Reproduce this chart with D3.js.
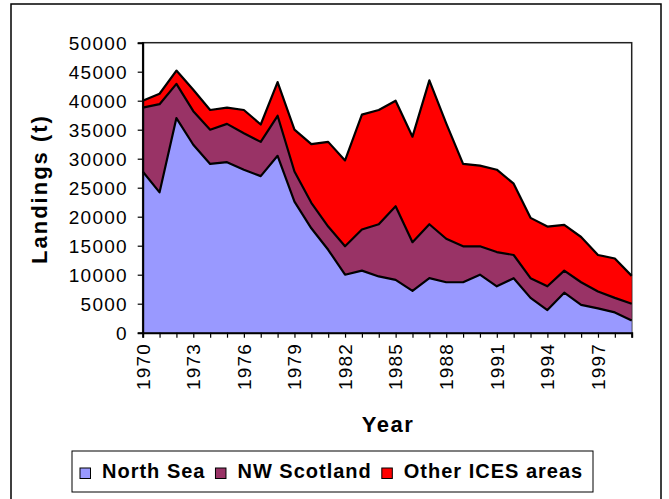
<!DOCTYPE html>
<html>
<head>
<meta charset="utf-8">
<script src="https://cdn.jsdelivr.net/npm/d3@7"></script>
<style>
  body { margin: 0; background: #fff; }
  text { font-family: "Liberation Sans", Arial, sans-serif; fill: #000; }
</style>
</head>
<body>
<div id="chart"></div>
<script>
// DATA (landings in tonnes)
const years = d3.range(1970, 2000);
const northSea = [27800, 24200, 37000, 32400, 29100, 29400, 28100, 27000, 30500, 22600,
  18000, 14300, 10000, 10700, 9700, 9100, 7200, 9400, 8700, 8700,
  10000, 8000, 9400, 6000, 3900, 6900, 4800, 4200, 3500, 2100];
const nwScotland = [11000, 15200, 5900, 5800, 5900, 6600, 6300, 5900, 6900, 5200,
  4400, 4000, 4900, 7100, 9000, 12700, 8400, 9300, 7500, 6200,
  4900, 5900, 4000, 3400, 4100, 3800, 3900, 2900, 2500, 2900];
const otherIces = [1200, 1800, 2300, 3700, 3400, 2800, 4000, 3000, 5800, 7200,
  10100, 14600, 14800, 19800, 19700, 18200, 18200, 24800, 19900, 14200,
  13900, 14200, 12300, 10400, 10300, 7900, 7800, 6300, 6800, 4800];
const seriesNames = ["North Sea", "NW Scotland", "Other ICES areas"];
const seriesColors = ["#9999ff", "#993366", "#ff0000"];
const yTicks = d3.range(0, 50001, 5000);
const yearLabels = d3.range(1970, 2000, 3);

const W = 669, H = 499;
const PLOT = { left: 142.7, right: 631.7, top: 42.7, bottom: 332.7 };

let svg = d3.select("#chart").append("svg")
  .attr("width", W).attr("height", H);

// outer frame
svg.append("rect")
  .attr("x", 11).attr("y", 4).attr("width", 650).attr("height", 510)
  .attr("fill", "none").attr("stroke", "#000").attr("stroke-width", 1.5);

let xScale = d3.scaleLinear().domain([1970, 1999]).range([PLOT.left, PLOT.right]);
let yScale = d3.scaleLinear().domain([0, 50000]).range([PLOT.bottom, PLOT.top]);

// plot frame
svg.append("rect")
  .attr("x", PLOT.left).attr("y", PLOT.top)
  .attr("width", PLOT.right - PLOT.left).attr("height", PLOT.bottom - PLOT.top)
  .attr("fill", "#fff").attr("stroke", "#222").attr("stroke-width", 1.5);

// STACK
const table = years.map((y, i) => ({
  year: y,
  "North Sea": northSea[i],
  "NW Scotland": nwScotland[i],
  "Other ICES areas": otherIces[i]
}));
const stacked = d3.stack().keys(seriesNames)(table);

const area = d3.area()
  .x(d => xScale(d.data.year))
  .y0(d => yScale(d[0]))
  .y1(d => yScale(d[1]));
const topLine = d3.line()
  .x(d => xScale(d.data.year))
  .y(d => yScale(d[1]));

svg.append("g").selectAll("path")
  .data(stacked)
  .join("path")
  .attr("d", area)
  .attr("fill", (d, i) => seriesColors[i]);

svg.append("g").selectAll("path")
  .data(stacked)
  .join("path")
  .attr("d", topLine)
  .attr("fill", "none")
  .attr("stroke", "#000")
  .attr("stroke-width", 2.2)
  .attr("stroke-linejoin", "round");

// AXES
let yAxis = svg.append("g")
  .attr("transform", `translate(${PLOT.left},0)`)
  .call(d3.axisLeft(yScale).tickValues(yTicks).tickSize(5).tickPadding(10).tickFormat(d3.format("d")));
yAxis.select(".domain").attr("stroke", "#000").attr("stroke-width", 2);
yAxis.selectAll(".tick line").attr("stroke", "#000").attr("stroke-width", 1.2);
yAxis.selectAll("text")
  .style("font-size", "19px").style("letter-spacing", "1.2px")
  .attr("dy", "0.36em");

let xAxis = svg.append("g")
  .attr("transform", `translate(0,${PLOT.bottom})`)
  .call(d3.axisBottom(xScale).tickValues(years).tickSize(5).tickFormat(""));
xAxis.select(".domain").attr("stroke", "#000").attr("stroke-width", 2);
xAxis.selectAll(".tick line").attr("stroke", "#000").attr("stroke-width", 1.2);

svg.append("g").selectAll("text")
  .data(yearLabels)
  .join("text")
  .attr("transform", d => `translate(${xScale(d)},343) rotate(-90)`)
  .attr("text-anchor", "end")
  .attr("dy", "0.36em")
  .style("font-size", "19px").style("letter-spacing", "1.2px")
  .text(d => d);

// AXIS TITLES
svg.append("text")
  .attr("transform", "translate(47,189) rotate(-90)")
  .attr("text-anchor", "middle")
  .style("font-size", "22px").style("font-weight", "bold").style("letter-spacing", "2px")
  .text("Landings (t)");

svg.append("text")
  .attr("x", 388).attr("y", 432)
  .attr("text-anchor", "middle")
  .style("font-size", "22px").style("font-weight", "bold").style("letter-spacing", "1.5px")
  .text("Year");

// LEGEND
svg.append("rect")
  .attr("x", 72).attr("y", 451).attr("width", 521).attr("height", 41)
  .attr("fill", "#fff").attr("stroke", "#000").attr("stroke-width", 1);

let lx = 80;
seriesNames.forEach((name, i) => {
  svg.append("rect")
    .attr("x", lx).attr("y", 468).attr("width", 10.5).attr("height", 10.5)
    .attr("fill", seriesColors[i]).attr("stroke", "#000").attr("stroke-width", 1);
  let t = svg.append("text")
    .attr("x", lx + 22).attr("y", 478)
    .style("font-size", "20px").style("font-weight", "bold").style("letter-spacing", "1px")
    .text(name);
  lx = lx + 22 + t.node().getComputedTextLength() + 10;
});
</script>
</body>
</html>
